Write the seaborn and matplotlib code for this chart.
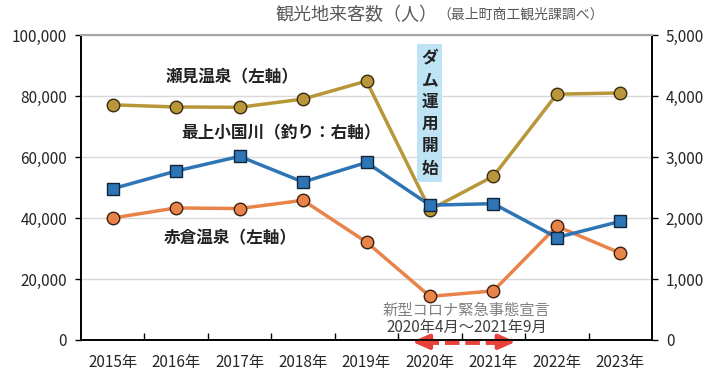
import numpy as np
import pandas as pd
import matplotlib.pyplot as plt
import seaborn as sns

sns.set_theme(style='white')
plt.rcParams['font.family'] = ['Noto Sans CJK JP', 'DejaVu Sans']

# データ
years = ['2015年', '2016年', '2017年', '2018年', '2019年', '2020年', '2021年', '2022年', '2023年']
semi = [77100, 76400, 76300, 79000, 84900, 42700, 53700, 80600, 81000]      # 瀬見温泉（左軸）
akakura = [40000, 43300, 43100, 45800, 32100, 14300, 16100, 37300, 28500]   # 赤倉温泉（左軸）
oguni = [2480, 2770, 3010, 2590, 2910, 2210, 2235, 1680, 1945]             # 最上小国川（右軸）

pos = np.arange(len(years))
df = pd.DataFrame({'pos': pos, 'semi': semi, 'akakura': akakura, 'oguni': oguni})

c_gold = '#B8963A'
c_orange = '#E8834A'
c_blue = '#2E75B6'
c_red = '#E8403A'

fig = plt.figure(figsize=(7.2, 3.85), dpi=100)
ax = fig.add_axes([81/720, 1-340/385, (652-81)/720, (340-35)/385])

sns.lineplot(data=df, x='pos', y='semi', ax=ax, color=c_gold, lw=2.5,
             marker='o', markersize=9, markeredgecolor='#3a2a10', markeredgewidth=1, zorder=3)
sns.lineplot(data=df, x='pos', y='akakura', ax=ax, color=c_orange, lw=2.5,
             marker='o', markersize=9, markeredgecolor='#3a2010', markeredgewidth=1, zorder=3)

ax2 = ax.twinx()
sns.lineplot(data=df, x='pos', y='oguni', ax=ax2, color=c_blue, lw=2.5,
             marker='s', markersize=9, markeredgecolor='#10243a', markeredgewidth=1, zorder=3)

ax.set_xlim(-0.5, len(years) - 0.5)
ax.set_ylim(0, 100000)
ax2.set_ylim(0, 5000)
ax.set_yticks(range(0, 100001, 20000))
ax.set_yticklabels([f'{v:,}' for v in range(0, 100001, 20000)], fontsize=11)
ax2.set_yticks(range(0, 5001, 1000))
ax2.set_yticklabels([f'{v:,}' for v in range(0, 5001, 1000)], fontsize=11)
ax.set_xticks(pos)
ax.set_xticklabels(years, fontsize=11)
ax.set_xticks(pos[:-1] + 0.5, minor=True)
ax.tick_params(axis='x', which='major', length=0, pad=10)
ax.tick_params(axis='x', which='minor', direction='in', length=5, width=1, color='black', bottom=True)
ax.tick_params(axis='y', length=4, width=1, color='black', left=True, pad=6)
ax2.tick_params(axis='y', length=4, width=1, color='black', right=True, pad=6)
ax.set_xlabel('')
ax.set_ylabel('')
ax2.set_ylabel('')

ax.grid(axis='y', color='#D9D9D9', lw=1)
ax.set_axisbelow(True)
for a in (ax, ax2):
    a.spines['top'].set_color('#A6A6A6')
    a.spines['top'].set_linewidth(1.5)
    for s in ('left', 'right', 'bottom'):
        a.spines[s].set_color('black')
        a.spines[s].set_linewidth(1.2)

# ラベル
ax.text(1.88, 86200, '瀬見温泉（左軸）', ha='center', va='center', fontsize=12, fontweight='bold', color='#222222')
ax.text(2.65, 67900, '最上小国川（釣り：右軸）', ha='center', va='center', fontsize=12, fontweight='bold', color='#222222')
ax.text(1.85, 33400, '赤倉温泉（左軸）', ha='center', va='center', fontsize=12, fontweight='bold', color='#222222')

ax.text(5, 74400, '\n'.join('ダム運用開始'), ha='center', va='center', fontsize=12, fontweight='bold',
        color='#222222', linespacing=1.3,
        bbox=dict(facecolor='#BDE3F5', edgecolor='none', boxstyle='square,pad=0.25'), zorder=5)

ax.text(5.58, 9700, '新型コロナ緊急事態宣言', ha='center', va='center', fontsize=11, color='#808080')
ax.text(5.58, 4000, '2020年4月～2021年9月', ha='center', va='center', fontsize=11, color='#404040')

# コロナ期間の矢印（破線＋両端の矢じり）
ya = -600
ax.plot([4.9, 6.17], [ya, ya], color=c_red, lw=3.5, dashes=(3, 1.2), clip_on=False, zorder=6,
        dash_capstyle='butt')
for x0, x1 in ((4.95, 4.72), (6.12, 6.35)):
    ax.annotate('', xy=(x1, ya), xytext=(x0, ya), annotation_clip=False,
                arrowprops=dict(arrowstyle='-|>,head_length=0.9,head_width=0.4', color=c_red, lw=3,
                                mutation_scale=11, shrinkA=0, shrinkB=0), zorder=6)

fig.text(275/720, 1-15/385, '観光地来客数（人）', ha='left', va='center', fontsize=13, color='#595959')
fig.text(437/720, 1-15/385, '（最上町商工観光課調べ）', ha='left', va='center', fontsize=10, color='#595959')

fig.savefig('out.png', dpi=100)
